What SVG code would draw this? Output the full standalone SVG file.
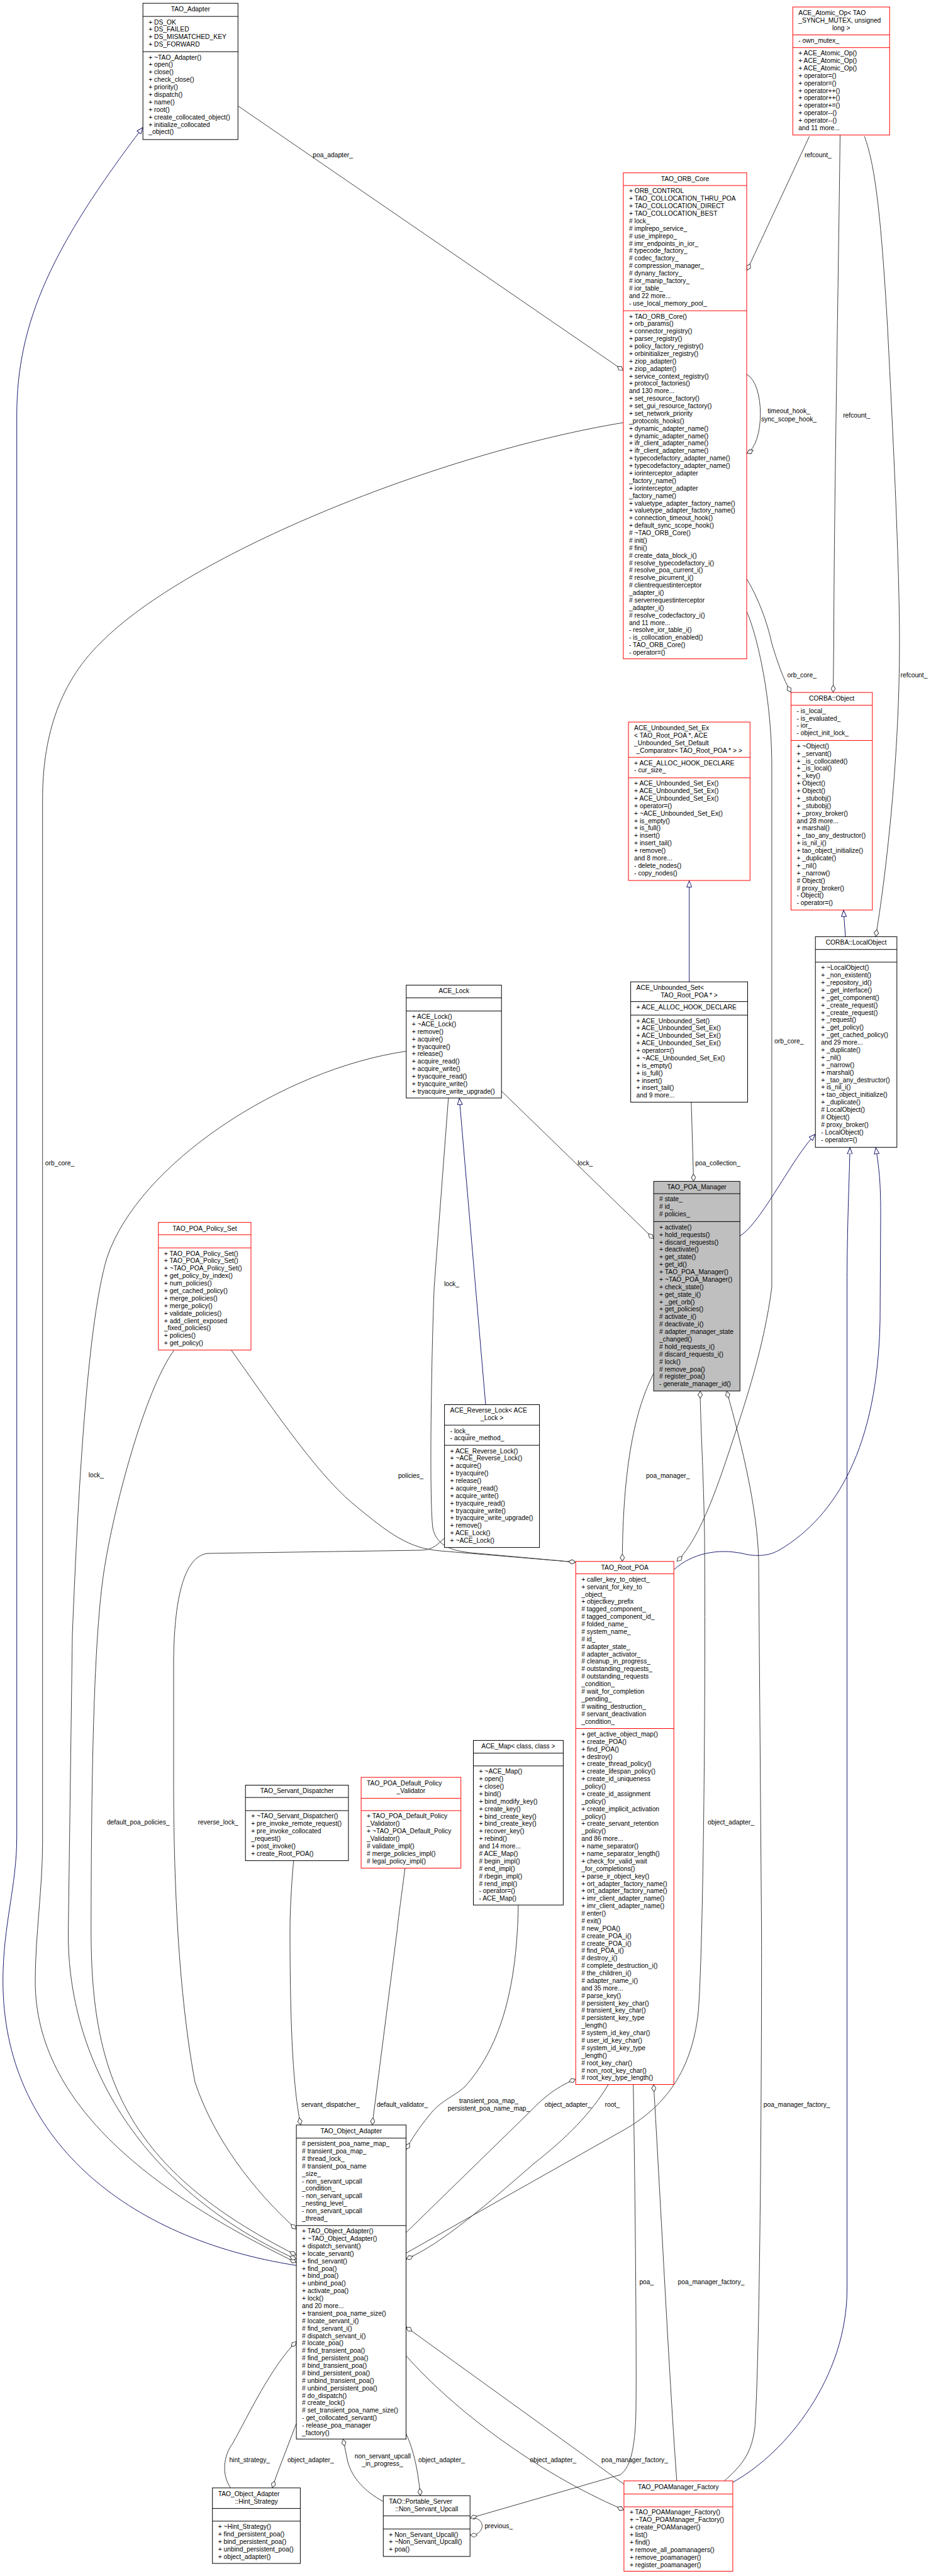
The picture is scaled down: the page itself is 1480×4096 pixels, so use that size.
<svg xmlns="http://www.w3.org/2000/svg" width="1480" height="4096" viewBox="0 0 1480 4096">
<style>
.bx{fill:#fff;stroke:#000;stroke-width:1}
.rd{fill:#fff;stroke:#f00;stroke-width:1}
.gy{fill:#bfbfbf;stroke:#000;stroke-width:1}
.sk{fill:none;stroke:#000;stroke-width:1}
.sr{fill:none;stroke:#f00;stroke-width:1}
text{font-family:"Liberation Sans",Arial,Helvetica,sans-serif;font-size:10.3px;fill:#000}
.c{text-anchor:middle}
.e{fill:none;stroke:#404040;stroke-width:1;marker-end:url(#d)}
.i{fill:none;stroke:#191970;stroke-width:1;marker-end:url(#t)}
</style>
<defs>
<marker id="d" viewBox="0 0 12 8" refX="12" refY="4" markerWidth="12" markerHeight="8" orient="auto" markerUnits="userSpaceOnUse"><path d="M0.5,4 L6,0.5 L11.5,4 L6,7.5 Z" fill="#fff" stroke="#404040"/></marker>
<marker id="t" viewBox="0 0 11 9" refX="11" refY="4.5" markerWidth="11" markerHeight="9" orient="auto" markerUnits="userSpaceOnUse"><path d="M0.5,0.5 L10.5,4.5 L0.5,8.5 Z" fill="#fff" stroke="#191970"/></marker>
</defs>
<rect width="1480" height="4096" fill="#fff"/>

<g id="connectors">
<path class="e" d="M378.3,168.4 L990.9,589"/>
<path class="e" d="M1286.7,216.7 L1187.5,430"/>
<path class="e" d="M1335.5,214.7 C1332,500 1326,800 1325.4,1023 L1324.5,1101"/>
<path class="e" d="M1374.2,216.7 C1390,260 1400,330 1411,522 C1420,700 1430,900 1429.9,1023 C1429.9,1200 1410,1380 1392.2,1489.4"/>
<path class="e" d="M1187,595.3 C1216,610 1216,706 1187,721"/>
<path class="e" d="M1187,920.4 C1205,950 1220,990 1226.9,1023 C1235,1050 1245,1080 1257.5,1101"/>
<path class="e" d="M1187,972.5 C1200,1000 1226.9,1100 1226.9,1219 L1226.9,2046.8 C1215,2140 1185,2230 1165,2290 C1145,2350 1115,2445 1076,2482.8"/>
<path class="e" d="M990.9,672 C700,720 300,880 160,1022 C90,1090 67.7,1180 67.7,1270 L67.7,2930 C67.7,3000 56,3080 56,3150 C56,3350 250,3490 471.1,3597.6"/>
<path class="i" d="M471.1,3602.2 C200,3560 4.7,3400 4.7,3150 C4.7,3060 26.7,3000 26.7,2920 L26.7,660 C26.7,510 85,390 227.2,202.3"/>
<path class="e" d="M645.8,1671.5 C450,1700 220,1850 170,2000 C140,2100 125,2350 115,2600 L108.6,3070 C106,3250 200,3470 471.1,3592.4"/>
<path class="e" d="M276.9,2146.7 C230,2210 180,2400 165,2500 C150,2600 145,2800 144.8,3070 C144.8,3300 200,3450 471.1,3585.8"/>
<path class="e" d="M706.6,2446 C695,2455 690,2464 670,2465 L330,2470 C290,2475 277,2550 276,2640 L276,2830 C276,2950 280,3150 310,3311 C340,3400 400,3480 471.1,3544.7"/>
<path class="e" d="M367.6,2146.7 C420,2220 500,2340 560,2390 C620,2440 650,2462 700,2466 L915.2,2484"/>
<path class="e" d="M712.8,1745.9 L690.2,2046.8 C686,2150 682,2380 688,2430 C695,2460 720,2467 760,2470 L915.2,2484"/>
<path class="i" d="M772,2233.5 L730.2,1746"/>
<path class="e" d="M797.2,1734.9 L1039.1,1969.8"/>
<path class="e" d="M1098.9,1752.5 L1102.6,1878.4"/>
<path class="i" d="M1095.7,1561.2 L1095.7,1400"/>
<path class="i" d="M1176.3,1965.2 C1210,1945 1260,1840 1296.2,1803.4"/>
<path class="i" d="M1344,1489.4 L1340.9,1447"/>
<path class="i" d="M1071.2,2496 C1100,2470 1140,2462 1180,2470 C1210,2478 1230,2470 1240,2464 C1330,2410 1395,2300 1399,2100 L1400,1930 C1400,1870 1396,1850 1392.2,1824.3"/>
<path class="i" d="M1164.9,3947 C1250,3900 1346.5,3780 1346.5,3640 L1346.5,2050 C1346.5,1950 1350,1880 1351.2,1824.3"/>
<path class="e" d="M1039.1,2184 C1010,2240 990,2330 989.3,2482.8"/>
<path class="e" d="M645.5,3582.6 L986,3390 C1060,3350 1100,3290 1110,3200 C1118,3100 1122,2700 1120,2440 C1118,2330 1114,2280 1113,2211.8"/>
<path class="e" d="M1151.4,3944.8 C1180,3920 1195,3900 1200,3860 C1208,3750 1211,3300 1210.6,3070 L1206,2480 C1204,2400 1180,2300 1155.2,2211.8"/>
<path class="e" d="M1075.9,3944.8 C1065,3800 1050,3500 1039.1,3314.5"/>
<path class="e" d="M1006.7,3314.5 C1010,3500 1012,3750 1011,3830 C1010,3900 1000,3925 986,3935 L747.2,4004"/>
<path class="e" d="M967.1,3314.5 C940,3360 900,3400 849,3440 C780,3500 700,3570 645.5,3592"/>
<path class="e" d="M645.5,3550 L842.8,3357.4 C860,3340 880,3320 915.2,3306"/>
<path class="e" d="M823.9,3029.1 C822,3150 800,3250 739,3318 C720,3335 700,3340 682,3364 C665,3385 655,3400 645.5,3418"/>
<path class="e" d="M643.9,2970.4 C640,3000 632,3060 631.3,3070 L591.7,3378.9"/>
<path class="e" d="M466.7,2958.6 C463,3000 461,3040 461,3070 C461,3250 468,3330 478,3378.9"/>
<path class="e" d="M366.6,3955.9 C352,3935 355,3905 370,3885 C395,3840 430,3765 471.1,3723"/>
<path class="e" d="M471.1,3853.4 L440,3935 L432.7,3955.9"/>
<path class="e" d="M609.3,3977.5 C580,3962 560,3940 553,3915 L545.4,3878.2"/>
<path class="e" d="M645.5,3869.8 C655,3890 664,3920 668.2,3968.3"/>
<path class="e" d="M991.9,3950 L645.5,3700"/>
<path class="e" d="M645.5,3745.8 C720,3830 850,3930 991.9,3991"/>
<path class="e" d="M752,4004 C772,4004 772,4031 747.2,4031"/>
<text x="497.3" y="250.4">poa_adapter_</text>
<text x="1278.9" y="250.4">refcount_</text>
<text x="1340.2" y="664.2">refcount_</text>
<text x="1431.5" y="1076.7">refcount_</text>
<text class="c" x="1254" y="657">timeout_hook_</text>
<text class="c" x="1254" y="669.5">sync_scope_hook_</text>
<text x="1251.5" y="1076.7">orb_core_</text>
<text x="1231" y="1658.9">orb_core_</text>
<text x="71.8" y="1853.4">orb_core_</text>
<text x="1105.2" y="1853.4">poa_collection_</text>
<text x="918.3" y="1853.4">lock_</text>
<text x="705.9" y="2045.3">lock_</text>
<text x="140.7" y="2349.4">lock_</text>
<text x="632.9" y="2350.1">policies_</text>
<text x="1027.1" y="2350.1">poa_manager_</text>
<text x="169.9" y="2901">default_poa_policies_</text>
<text x="314.7" y="2901">reverse_lock_</text>
<text x="1125" y="2901">object_adapter_</text>
<text x="479" y="3350">servant_dispatcher_</text>
<text x="598.9" y="3350">default_validator_</text>
<text class="c" x="777" y="3343.5">transient_poa_map_</text>
<text class="c" x="777" y="3355.9">persistent_poa_name_map_</text>
<text x="865.8" y="3350">object_adapter_</text>
<text x="961.5" y="3350">root_</text>
<text x="1213.7" y="3350">poa_manager_factory_</text>
<text x="1016.4" y="3632">poa_</text>
<text x="1077.5" y="3632">poa_manager_factory_</text>
<text x="364.4" y="3914.6">hint_strategy_</text>
<text x="456.9" y="3914.6">object_adapter_</text>
<text class="c" x="608.4" y="3908.7">non_servant_upcall</text>
<text class="c" x="608" y="3920.5">_in_progress_</text>
<text x="665" y="3914.6">object_adapter_</text>
<text x="842.2" y="3914.6">object_adapter_</text>
<text x="956.1" y="3914.6">poa_manager_factory_</text>
<text x="770.4" y="4019.7">previous_</text>
</g>

<g id="TAO_Adapter">
<rect class="bx" x="227.2" y="5.2" width="151.1" height="216.7"/>
<path class="sk" d="M227.2,26.1H378.3M227.2,82.2H378.3"/>
<text class="c" x="302.75" y="18.1">TAO_Adapter</text>
<text x="236.2" y="38.5"><tspan x="236.2">+ DS_OK</tspan><tspan x="236.2" dy="11.88">+ DS_FAILED</tspan><tspan x="236.2" dy="11.88">+ DS_MISMATCHED_KEY</tspan><tspan x="236.2" dy="11.88">+ DS_FORWARD</tspan></text>
<text x="236.2" y="94.6"><tspan x="236.2">+ ~TAO_Adapter()</tspan><tspan x="236.2" dy="11.88">+ open()</tspan><tspan x="236.2" dy="11.88">+ close()</tspan><tspan x="236.2" dy="11.88">+ check_close()</tspan><tspan x="236.2" dy="11.88">+ priority()</tspan><tspan x="236.2" dy="11.88">+ dispatch()</tspan><tspan x="236.2" dy="11.88">+ name()</tspan><tspan x="236.2" dy="11.88">+ root()</tspan><tspan x="236.2" dy="11.88">+ create_collocated_object()</tspan><tspan x="236.2" dy="11.88">+ initialize_collocated</tspan><tspan x="236.2" dy="11.88">_object()</tspan></text>
</g>

<g id="ACE_Atomic_Op">
<rect class="rd" x="1260.3" y="11.1" width="153.9" height="203.6"/>
<path class="sr" d="M1260.3,55.5H1414.2M1260.3,75.7H1414.2"/>
<text x="1269.3" y="24"><tspan x="1269.3">ACE_Atomic_Op&lt; TAO</tspan><tspan x="1269.3" dy="11.88">_SYNCH_MUTEX, unsigned</tspan></text>
<text class="c" x="1337.25" y="47.8">long &gt;</text>
<text x="1269.3" y="67.9">- own_mutex_</text>
<text x="1269.3" y="88.1"><tspan x="1269.3">+ ACE_Atomic_Op()</tspan><tspan x="1269.3" dy="11.88">+ ACE_Atomic_Op()</tspan><tspan x="1269.3" dy="11.88">+ ACE_Atomic_Op()</tspan><tspan x="1269.3" dy="11.88">+ operator=()</tspan><tspan x="1269.3" dy="11.88">+ operator=()</tspan><tspan x="1269.3" dy="11.88">+ operator++()</tspan><tspan x="1269.3" dy="11.88">+ operator++()</tspan><tspan x="1269.3" dy="11.88">+ operator+=()</tspan><tspan x="1269.3" dy="11.88">+ operator--()</tspan><tspan x="1269.3" dy="11.88">+ operator--()</tspan><tspan x="1269.3" dy="11.88">and 11 more...</tspan></text>
</g>

<g id="TAO_ORB_Core">
<rect class="rd" x="990.9" y="274.8" width="196.1" height="772.8"/>
<path class="sr" d="M990.9,295H1187M990.9,494.1H1187"/>
<text class="c" x="1088.95" y="287.7">TAO_ORB_Core</text>
<text x="1000" y="307.4"><tspan x="1000">+ ORB_CONTROL</tspan><tspan x="1000" dy="11.88">+ TAO_COLLOCATION_THRU_POA</tspan><tspan x="1000" dy="11.88">+ TAO_COLLOCATION_DIRECT</tspan><tspan x="1000" dy="11.88">+ TAO_COLLOCATION_BEST</tspan><tspan x="1000" dy="11.88"># lock_</tspan><tspan x="1000" dy="11.88"># implrepo_service_</tspan><tspan x="1000" dy="11.88"># use_implrepo_</tspan><tspan x="1000" dy="11.88"># imr_endpoints_in_ior_</tspan><tspan x="1000" dy="11.88"># typecode_factory_</tspan><tspan x="1000" dy="11.88"># codec_factory_</tspan><tspan x="1000" dy="11.88"># compression_manager_</tspan><tspan x="1000" dy="11.88"># dynany_factory_</tspan><tspan x="1000" dy="11.88"># ior_manip_factory_</tspan><tspan x="1000" dy="11.88"># ior_table_</tspan><tspan x="1000" dy="11.88">and 22 more...</tspan><tspan x="1000" dy="11.88">- use_local_memory_pool_</tspan></text>
<text x="1000" y="506.5"><tspan x="1000">+ TAO_ORB_Core()</tspan><tspan x="1000" dy="11.88">+ orb_params()</tspan><tspan x="1000" dy="11.88">+ connector_registry()</tspan><tspan x="1000" dy="11.88">+ parser_registry()</tspan><tspan x="1000" dy="11.88">+ policy_factory_registry()</tspan><tspan x="1000" dy="11.88">+ orbinitializer_registry()</tspan><tspan x="1000" dy="11.88">+ ziop_adapter()</tspan><tspan x="1000" dy="11.88">+ ziop_adapter()</tspan><tspan x="1000" dy="11.88">+ service_context_registry()</tspan><tspan x="1000" dy="11.88">+ protocol_factories()</tspan><tspan x="1000" dy="11.88">and 130 more...</tspan><tspan x="1000" dy="11.88">+ set_resource_factory()</tspan><tspan x="1000" dy="11.88">+ set_gui_resource_factory()</tspan><tspan x="1000" dy="11.88">+ set_network_priority</tspan><tspan x="1000" dy="11.88">_protocols_hooks()</tspan><tspan x="1000" dy="11.88">+ dynamic_adapter_name()</tspan><tspan x="1000" dy="11.88">+ dynamic_adapter_name()</tspan><tspan x="1000" dy="11.88">+ ifr_client_adapter_name()</tspan><tspan x="1000" dy="11.88">+ ifr_client_adapter_name()</tspan><tspan x="1000" dy="11.88">+ typecodefactory_adapter_name()</tspan><tspan x="1000" dy="11.88">+ typecodefactory_adapter_name()</tspan><tspan x="1000" dy="11.88">+ iorinterceptor_adapter</tspan><tspan x="1000" dy="11.88">_factory_name()</tspan><tspan x="1000" dy="11.88">+ iorinterceptor_adapter</tspan><tspan x="1000" dy="11.88">_factory_name()</tspan><tspan x="1000" dy="11.88">+ valuetype_adapter_factory_name()</tspan><tspan x="1000" dy="11.88">+ valuetype_adapter_factory_name()</tspan><tspan x="1000" dy="11.88">+ connection_timeout_hook()</tspan><tspan x="1000" dy="11.88">+ default_sync_scope_hook()</tspan><tspan x="1000" dy="11.88"># ~TAO_ORB_Core()</tspan><tspan x="1000" dy="11.88"># init()</tspan><tspan x="1000" dy="11.88"># fini()</tspan><tspan x="1000" dy="11.88"># create_data_block_i()</tspan><tspan x="1000" dy="11.88"># resolve_typecodefactory_i()</tspan><tspan x="1000" dy="11.88"># resolve_poa_current_i()</tspan><tspan x="1000" dy="11.88"># resolve_picurrent_i()</tspan><tspan x="1000" dy="11.88"># clientrequestinterceptor</tspan><tspan x="1000" dy="11.88">_adapter_i()</tspan><tspan x="1000" dy="11.88"># serverrequestinterceptor</tspan><tspan x="1000" dy="11.88">_adapter_i()</tspan><tspan x="1000" dy="11.88"># resolve_codecfactory_i()</tspan><tspan x="1000" dy="11.88">and 11 more...</tspan><tspan x="1000" dy="11.88">- resolve_ior_table_i()</tspan><tspan x="1000" dy="11.88">- is_collocation_enabled()</tspan><tspan x="1000" dy="11.88">- TAO_ORB_Core()</tspan><tspan x="1000" dy="11.88">- operator=()</tspan></text>
</g>

<g id="ACE_Unbounded_Set_Ex">
<rect class="rd" x="999.1" y="1148.1" width="193.2" height="251.9"/>
<path class="sr" d="M999.1,1204.2H1192.3M999.1,1236.8H1192.3"/>
<text x="1008.1" y="1161"><tspan x="1008.1">ACE_Unbounded_Set_Ex</tspan><tspan x="1008.1" dy="11.88">&lt; TAO_Root_POA *, ACE</tspan><tspan x="1008.1" dy="11.88">_Unbounded_Set_Default</tspan></text>
<text class="c" x="1095.7" y="1196.6">_Comparator&lt; TAO_Root_POA * &gt; &gt;</text>
<text x="1008.1" y="1216.6"><tspan x="1008.1">+ ACE_ALLOC_HOOK_DECLARE</tspan><tspan x="1008.1" dy="11.88">- cur_size_</tspan></text>
<text x="1008.1" y="1249.2"><tspan x="1008.1">+ ACE_Unbounded_Set_Ex()</tspan><tspan x="1008.1" dy="11.88">+ ACE_Unbounded_Set_Ex()</tspan><tspan x="1008.1" dy="11.88">+ ACE_Unbounded_Set_Ex()</tspan><tspan x="1008.1" dy="11.88">+ operator=()</tspan><tspan x="1008.1" dy="11.88">+ ~ACE_Unbounded_Set_Ex()</tspan><tspan x="1008.1" dy="11.88">+ is_empty()</tspan><tspan x="1008.1" dy="11.88">+ is_full()</tspan><tspan x="1008.1" dy="11.88">+ insert()</tspan><tspan x="1008.1" dy="11.88">+ insert_tail()</tspan><tspan x="1008.1" dy="11.88">+ remove()</tspan><tspan x="1008.1" dy="11.88">and 8 more...</tspan><tspan x="1008.1" dy="11.88">- delete_nodes()</tspan><tspan x="1008.1" dy="11.88">- copy_nodes()</tspan></text>
</g>

<g id="CORBA_Object">
<rect class="rd" x="1257.5" y="1101.1" width="129.3" height="345.9"/>
<path class="sr" d="M1257.5,1121.3H1386.8M1257.5,1177.4H1386.8"/>
<text class="c" x="1322.15" y="1114">CORBA::Object</text>
<text x="1266.5" y="1133.7"><tspan x="1266.5">- is_local_</tspan><tspan x="1266.5" dy="11.88">- is_evaluated_</tspan><tspan x="1266.5" dy="11.88">- ior_</tspan><tspan x="1266.5" dy="11.88">- object_init_lock_</tspan></text>
<text x="1266.5" y="1189.8"><tspan x="1266.5">+ ~Object()</tspan><tspan x="1266.5" dy="11.88">+ _servant()</tspan><tspan x="1266.5" dy="11.88">+ _is_collocated()</tspan><tspan x="1266.5" dy="11.88">+ _is_local()</tspan><tspan x="1266.5" dy="11.88">+ _key()</tspan><tspan x="1266.5" dy="11.88">+ Object()</tspan><tspan x="1266.5" dy="11.88">+ Object()</tspan><tspan x="1266.5" dy="11.88">+ _stubobj()</tspan><tspan x="1266.5" dy="11.88">+ _stubobj()</tspan><tspan x="1266.5" dy="11.88">+ _proxy_broker()</tspan><tspan x="1266.5" dy="11.88">and 28 more...</tspan><tspan x="1266.5" dy="11.88">+ marshal()</tspan><tspan x="1266.5" dy="11.88">+ _tao_any_destructor()</tspan><tspan x="1266.5" dy="11.88">+ is_nil_i()</tspan><tspan x="1266.5" dy="11.88">+ tao_object_initialize()</tspan><tspan x="1266.5" dy="11.88">+ _duplicate()</tspan><tspan x="1266.5" dy="11.88">+ _nil()</tspan><tspan x="1266.5" dy="11.88">+ _narrow()</tspan><tspan x="1266.5" dy="11.88"># Object()</tspan><tspan x="1266.5" dy="11.88"># proxy_broker()</tspan><tspan x="1266.5" dy="11.88">- Object()</tspan><tspan x="1266.5" dy="11.88">- operator=()</tspan></text>
</g>

<g id="CORBA_LocalObject">
<rect class="bx" x="1296.2" y="1489.4" width="129.6" height="334.9"/>
<path class="sk" d="M1296.2,1509.7H1425.8M1296.2,1529.9H1425.8"/>
<text class="c" x="1361" y="1502.3">CORBA::LocalObject</text>
<text x="1305.2" y="1542.3"><tspan x="1305.2">+ ~LocalObject()</tspan><tspan x="1305.2" dy="11.88">+ _non_existent()</tspan><tspan x="1305.2" dy="11.88">+ _repository_id()</tspan><tspan x="1305.2" dy="11.88">+ _get_interface()</tspan><tspan x="1305.2" dy="11.88">+ _get_component()</tspan><tspan x="1305.2" dy="11.88">+ _create_request()</tspan><tspan x="1305.2" dy="11.88">+ _create_request()</tspan><tspan x="1305.2" dy="11.88">+ _request()</tspan><tspan x="1305.2" dy="11.88">+ _get_policy()</tspan><tspan x="1305.2" dy="11.88">+ _get_cached_policy()</tspan><tspan x="1305.2" dy="11.88">and 29 more...</tspan><tspan x="1305.2" dy="11.88">+ _duplicate()</tspan><tspan x="1305.2" dy="11.88">+ _nil()</tspan><tspan x="1305.2" dy="11.88">+ _narrow()</tspan><tspan x="1305.2" dy="11.88">+ marshal()</tspan><tspan x="1305.2" dy="11.88">+ _tao_any_destructor()</tspan><tspan x="1305.2" dy="11.88">+ is_nil_i()</tspan><tspan x="1305.2" dy="11.88">+ tao_object_initialize()</tspan><tspan x="1305.2" dy="11.88">+ _duplicate()</tspan><tspan x="1305.2" dy="11.88"># LocalObject()</tspan><tspan x="1305.2" dy="11.88"># Object()</tspan><tspan x="1305.2" dy="11.88"># proxy_broker()</tspan><tspan x="1305.2" dy="11.88">- LocalObject()</tspan><tspan x="1305.2" dy="11.88">- operator=()</tspan></text>
</g>

<g id="ACE_Lock">
<rect class="bx" x="645.8" y="1566.4" width="151.4" height="179.5"/>
<path class="sk" d="M645.8,1586.7H797.2M645.8,1607.6H797.2"/>
<text class="c" x="721.5" y="1579.3">ACE_Lock</text>
<text x="654.8" y="1620"><tspan x="654.8">+ ACE_Lock()</tspan><tspan x="654.8" dy="11.88">+ ~ACE_Lock()</tspan><tspan x="654.8" dy="11.88">+ remove()</tspan><tspan x="654.8" dy="11.88">+ acquire()</tspan><tspan x="654.8" dy="11.88">+ tryacquire()</tspan><tspan x="654.8" dy="11.88">+ release()</tspan><tspan x="654.8" dy="11.88">+ acquire_read()</tspan><tspan x="654.8" dy="11.88">+ acquire_write()</tspan><tspan x="654.8" dy="11.88">+ tryacquire_read()</tspan><tspan x="654.8" dy="11.88">+ tryacquire_write()</tspan><tspan x="654.8" dy="11.88">+ tryacquire_write_upgrade()</tspan></text>
</g>

<g id="ACE_Unbounded_Set">
<rect class="bx" x="1002.6" y="1561.2" width="185.9" height="191.3"/>
<path class="sk" d="M1002.6,1592.6H1188.5M1002.6,1614.1H1188.5"/>
<text x="1011.6" y="1574.1">ACE_Unbounded_Set&lt;</text>
<text class="c" x="1095.55" y="1586">TAO_Root_POA * &gt;</text>
<text x="1011.6" y="1605">+ ACE_ALLOC_HOOK_DECLARE</text>
<text x="1011.6" y="1626.5"><tspan x="1011.6">+ ACE_Unbounded_Set()</tspan><tspan x="1011.6" dy="11.88">+ ACE_Unbounded_Set_Ex()</tspan><tspan x="1011.6" dy="11.88">+ ACE_Unbounded_Set_Ex()</tspan><tspan x="1011.6" dy="11.88">+ ACE_Unbounded_Set_Ex()</tspan><tspan x="1011.6" dy="11.88">+ operator=()</tspan><tspan x="1011.6" dy="11.88">+ ~ACE_Unbounded_Set_Ex()</tspan><tspan x="1011.6" dy="11.88">+ is_empty()</tspan><tspan x="1011.6" dy="11.88">+ is_full()</tspan><tspan x="1011.6" dy="11.88">+ insert()</tspan><tspan x="1011.6" dy="11.88">+ insert_tail()</tspan><tspan x="1011.6" dy="11.88">and 9 more...</tspan></text>
</g>

<g id="TAO_POA_Manager">
<rect class="gy" x="1039.1" y="1878.4" width="137.2" height="333.4"/>
<path class="sk" d="M1039.1,1898H1176.3M1039.1,1942.4H1176.3"/>
<text class="c" x="1107.7" y="1891.3">TAO_POA_Manager</text>
<text x="1048.1" y="1910.4"><tspan x="1048.1"># state_</tspan><tspan x="1048.1" dy="11.88"># id_</tspan><tspan x="1048.1" dy="11.88"># policies_</tspan></text>
<text x="1048.1" y="1954.8"><tspan x="1048.1">+ activate()</tspan><tspan x="1048.1" dy="11.88">+ hold_requests()</tspan><tspan x="1048.1" dy="11.88">+ discard_requests()</tspan><tspan x="1048.1" dy="11.88">+ deactivate()</tspan><tspan x="1048.1" dy="11.88">+ get_state()</tspan><tspan x="1048.1" dy="11.88">+ get_id()</tspan><tspan x="1048.1" dy="11.88">+ TAO_POA_Manager()</tspan><tspan x="1048.1" dy="11.88">+ ~TAO_POA_Manager()</tspan><tspan x="1048.1" dy="11.88">+ check_state()</tspan><tspan x="1048.1" dy="11.88">+ get_state_i()</tspan><tspan x="1048.1" dy="11.88">+ _get_orb()</tspan><tspan x="1048.1" dy="11.88">+ get_policies()</tspan><tspan x="1048.1" dy="11.88"># activate_i()</tspan><tspan x="1048.1" dy="11.88"># deactivate_i()</tspan><tspan x="1048.1" dy="11.88"># adapter_manager_state</tspan><tspan x="1048.1" dy="11.88">_changed()</tspan><tspan x="1048.1" dy="11.88"># hold_requests_i()</tspan><tspan x="1048.1" dy="11.88"># discard_requests_i()</tspan><tspan x="1048.1" dy="11.88"># lock()</tspan><tspan x="1048.1" dy="11.88"># remove_poa()</tspan><tspan x="1048.1" dy="11.88"># register_poa()</tspan><tspan x="1048.1" dy="11.88">- generate_manager_id()</tspan></text>
</g>

<g id="TAO_POA_Policy_Set">
<rect class="rd" x="251.8" y="1943.7" width="147.2" height="203"/>
<path class="sr" d="M251.8,1963.3H399M251.8,1984.2H399"/>
<text class="c" x="325.4" y="1956.6">TAO_POA_Policy_Set</text>
<text x="260.8" y="1996.6"><tspan x="260.8">+ TAO_POA_Policy_Set()</tspan><tspan x="260.8" dy="11.88">+ TAO_POA_Policy_Set()</tspan><tspan x="260.8" dy="11.88">+ ~TAO_POA_Policy_Set()</tspan><tspan x="260.8" dy="11.88">+ get_policy_by_index()</tspan><tspan x="260.8" dy="11.88">+ num_policies()</tspan><tspan x="260.8" dy="11.88">+ get_cached_policy()</tspan><tspan x="260.8" dy="11.88">+ merge_policies()</tspan><tspan x="260.8" dy="11.88">+ merge_policy()</tspan><tspan x="260.8" dy="11.88">+ validate_policies()</tspan><tspan x="260.8" dy="11.88">+ add_client_exposed</tspan><tspan x="260.8" dy="11.88">_fixed_policies()</tspan><tspan x="260.8" dy="11.88">+ policies()</tspan><tspan x="260.8" dy="11.88">+ get_policy()</tspan></text>
</g>

<g id="ACE_Reverse_Lock">
<rect class="bx" x="706.6" y="2233.5" width="151" height="227.1"/>
<path class="sk" d="M706.6,2266.1H857.6M706.6,2298.1H857.6"/>
<text x="715.6" y="2246.4">ACE_Reverse_Lock&lt; ACE</text>
<text class="c" x="782.1" y="2258.3">_Lock &gt;</text>
<text x="715.6" y="2278.5"><tspan x="715.6">- lock_</tspan><tspan x="715.6" dy="11.88">- acquire_method_</tspan></text>
<text x="715.6" y="2310.5"><tspan x="715.6">+ ACE_Reverse_Lock()</tspan><tspan x="715.6" dy="11.88">+ ~ACE_Reverse_Lock()</tspan><tspan x="715.6" dy="11.88">+ acquire()</tspan><tspan x="715.6" dy="11.88">+ tryacquire()</tspan><tspan x="715.6" dy="11.88">+ release()</tspan><tspan x="715.6" dy="11.88">+ acquire_read()</tspan><tspan x="715.6" dy="11.88">+ acquire_write()</tspan><tspan x="715.6" dy="11.88">+ tryacquire_read()</tspan><tspan x="715.6" dy="11.88">+ tryacquire_write()</tspan><tspan x="715.6" dy="11.88">+ tryacquire_write_upgrade()</tspan><tspan x="715.6" dy="11.88">+ remove()</tspan><tspan x="715.6" dy="11.88">+ ACE_Lock()</tspan><tspan x="715.6" dy="11.88">+ ~ACE_Lock()</tspan></text>
</g>

<g id="TAO_Root_POA">
<rect class="rd" x="915.2" y="2482.8" width="156" height="831.7"/>
<path class="sr" d="M915.2,2502.4H1071.2M915.2,2748.5H1071.2"/>
<text class="c" x="993.2" y="2495.7">TAO_Root_POA</text>
<text x="924.2" y="2514.8"><tspan x="924.2">+ caller_key_to_object_</tspan><tspan x="924.2" dy="11.88">+ servant_for_key_to</tspan><tspan x="924.2" dy="11.88">_object_</tspan><tspan x="924.2" dy="11.88">+ objectkey_prefix</tspan><tspan x="924.2" dy="11.88"># tagged_component_</tspan><tspan x="924.2" dy="11.88"># tagged_component_id_</tspan><tspan x="924.2" dy="11.88"># folded_name_</tspan><tspan x="924.2" dy="11.88"># system_name_</tspan><tspan x="924.2" dy="11.88"># id_</tspan><tspan x="924.2" dy="11.88"># adapter_state_</tspan><tspan x="924.2" dy="11.88"># adapter_activator_</tspan><tspan x="924.2" dy="11.88"># cleanup_in_progress_</tspan><tspan x="924.2" dy="11.88"># outstanding_requests_</tspan><tspan x="924.2" dy="11.88"># outstanding_requests</tspan><tspan x="924.2" dy="11.88">_condition_</tspan><tspan x="924.2" dy="11.88"># wait_for_completion</tspan><tspan x="924.2" dy="11.88">_pending_</tspan><tspan x="924.2" dy="11.88"># waiting_destruction_</tspan><tspan x="924.2" dy="11.88"># servant_deactivation</tspan><tspan x="924.2" dy="11.88">_condition_</tspan></text>
<text x="924.2" y="2760.9"><tspan x="924.2">+ get_active_object_map()</tspan><tspan x="924.2" dy="11.88">+ create_POA()</tspan><tspan x="924.2" dy="11.88">+ find_POA()</tspan><tspan x="924.2" dy="11.88">+ destroy()</tspan><tspan x="924.2" dy="11.88">+ create_thread_policy()</tspan><tspan x="924.2" dy="11.88">+ create_lifespan_policy()</tspan><tspan x="924.2" dy="11.88">+ create_id_uniqueness</tspan><tspan x="924.2" dy="11.88">_policy()</tspan><tspan x="924.2" dy="11.88">+ create_id_assignment</tspan><tspan x="924.2" dy="11.88">_policy()</tspan><tspan x="924.2" dy="11.88">+ create_implicit_activation</tspan><tspan x="924.2" dy="11.88">_policy()</tspan><tspan x="924.2" dy="11.88">+ create_servant_retention</tspan><tspan x="924.2" dy="11.88">_policy()</tspan><tspan x="924.2" dy="11.88">and 86 more...</tspan><tspan x="924.2" dy="11.88">+ name_separator()</tspan><tspan x="924.2" dy="11.88">+ name_separator_length()</tspan><tspan x="924.2" dy="11.88">+ check_for_valid_wait</tspan><tspan x="924.2" dy="11.88">_for_completions()</tspan><tspan x="924.2" dy="11.88">+ parse_ir_object_key()</tspan><tspan x="924.2" dy="11.88">+ ort_adapter_factory_name()</tspan><tspan x="924.2" dy="11.88">+ ort_adapter_factory_name()</tspan><tspan x="924.2" dy="11.88">+ imr_client_adapter_name()</tspan><tspan x="924.2" dy="11.88">+ imr_client_adapter_name()</tspan><tspan x="924.2" dy="11.88"># enter()</tspan><tspan x="924.2" dy="11.88"># exit()</tspan><tspan x="924.2" dy="11.88"># new_POA()</tspan><tspan x="924.2" dy="11.88"># create_POA_i()</tspan><tspan x="924.2" dy="11.88"># create_POA_i()</tspan><tspan x="924.2" dy="11.88"># find_POA_i()</tspan><tspan x="924.2" dy="11.88"># destroy_i()</tspan><tspan x="924.2" dy="11.88"># complete_destruction_i()</tspan><tspan x="924.2" dy="11.88"># the_children_i()</tspan><tspan x="924.2" dy="11.88"># adapter_name_i()</tspan><tspan x="924.2" dy="11.88">and 35 more...</tspan><tspan x="924.2" dy="11.88"># parse_key()</tspan><tspan x="924.2" dy="11.88"># persistent_key_char()</tspan><tspan x="924.2" dy="11.88"># transient_key_char()</tspan><tspan x="924.2" dy="11.88"># persistent_key_type</tspan><tspan x="924.2" dy="11.88">_length()</tspan><tspan x="924.2" dy="11.88"># system_id_key_char()</tspan><tspan x="924.2" dy="11.88"># user_id_key_char()</tspan><tspan x="924.2" dy="11.88"># system_id_key_type</tspan><tspan x="924.2" dy="11.88">_length()</tspan><tspan x="924.2" dy="11.88"># root_key_char()</tspan><tspan x="924.2" dy="11.88"># non_root_key_char()</tspan><tspan x="924.2" dy="11.88"># root_key_type_length()</tspan></text>
</g>

<g id="ACE_Map">
<rect class="bx" x="752.5" y="2767.4" width="142.9" height="261.7"/>
<path class="sk" d="M752.5,2787.6H895.4M752.5,2807.9H895.4"/>
<text class="c" x="823.95" y="2780.3">ACE_Map&lt; class, class &gt;</text>
<text x="761.5" y="2820.3"><tspan x="761.5">+ ~ACE_Map()</tspan><tspan x="761.5" dy="11.88">+ open()</tspan><tspan x="761.5" dy="11.88">+ close()</tspan><tspan x="761.5" dy="11.88">+ bind()</tspan><tspan x="761.5" dy="11.88">+ bind_modify_key()</tspan><tspan x="761.5" dy="11.88">+ create_key()</tspan><tspan x="761.5" dy="11.88">+ bind_create_key()</tspan><tspan x="761.5" dy="11.88">+ bind_create_key()</tspan><tspan x="761.5" dy="11.88">+ recover_key()</tspan><tspan x="761.5" dy="11.88">+ rebind()</tspan><tspan x="761.5" dy="11.88">and 14 more...</tspan><tspan x="761.5" dy="11.88"># ACE_Map()</tspan><tspan x="761.5" dy="11.88"># begin_impl()</tspan><tspan x="761.5" dy="11.88"># end_impl()</tspan><tspan x="761.5" dy="11.88"># rbegin_impl()</tspan><tspan x="761.5" dy="11.88"># rend_impl()</tspan><tspan x="761.5" dy="11.88">- operator=()</tspan><tspan x="761.5" dy="11.88">- ACE_Map()</tspan></text>
</g>

<g id="TAO_Servant_Dispatcher">
<rect class="bx" x="390.2" y="2838.5" width="163.7" height="120.1"/>
<path class="sk" d="M390.2,2858.1H553.9M390.2,2879H553.9"/>
<text class="c" x="472.05" y="2851.4">TAO_Servant_Dispatcher</text>
<text x="399.2" y="2891.4"><tspan x="399.2">+ ~TAO_Servant_Dispatcher()</tspan><tspan x="399.2" dy="11.88">+ pre_invoke_remote_request()</tspan><tspan x="399.2" dy="11.88">+ pre_invoke_collocated</tspan><tspan x="399.2" dy="11.88">_request()</tspan><tspan x="399.2" dy="11.88">+ post_invoke()</tspan><tspan x="399.2" dy="11.88">+ create_Root_POA()</tspan></text>
</g>

<g id="TAO_POA_Default_Policy_Validator">
<rect class="rd" x="574.1" y="2826.1" width="158.6" height="144.3"/>
<path class="sr" d="M574.1,2859.4H732.7M574.1,2879H732.7"/>
<text x="583.1" y="2839">TAO_POA_Default_Policy</text>
<text class="c" x="653.4" y="2850.9">_Validator</text>
<text x="583.1" y="2891.4"><tspan x="583.1">+ TAO_POA_Default_Policy</tspan><tspan x="583.1" dy="11.88">_Validator()</tspan><tspan x="583.1" dy="11.88">+ ~TAO_POA_Default_Policy</tspan><tspan x="583.1" dy="11.88">_Validator()</tspan><tspan x="583.1" dy="11.88"># validate_impl()</tspan><tspan x="583.1" dy="11.88"># merge_policies_impl()</tspan><tspan x="583.1" dy="11.88"># legal_policy_impl()</tspan></text>
</g>

<g id="TAO_Object_Adapter">
<rect class="bx" x="471.1" y="3378.9" width="174.4" height="499.3"/>
<path class="sk" d="M471.1,3399.8H645.5M471.1,3538.8H645.5"/>
<text class="c" x="558.3" y="3391.8">TAO_Object_Adapter</text>
<text x="480.1" y="3412.2"><tspan x="480.1"># persistent_poa_name_map_</tspan><tspan x="480.1" dy="11.88"># transient_poa_map_</tspan><tspan x="480.1" dy="11.88"># thread_lock_</tspan><tspan x="480.1" dy="11.88"># transient_poa_name</tspan><tspan x="480.1" dy="11.88">_size_</tspan><tspan x="480.1" dy="11.88">- non_servant_upcall</tspan><tspan x="480.1" dy="11.88">_condition_</tspan><tspan x="480.1" dy="11.88">- non_servant_upcall</tspan><tspan x="480.1" dy="11.88">_nesting_level_</tspan><tspan x="480.1" dy="11.88">- non_servant_upcall</tspan><tspan x="480.1" dy="11.88">_thread_</tspan></text>
<text x="480.1" y="3551.2"><tspan x="480.1">+ TAO_Object_Adapter()</tspan><tspan x="480.1" dy="11.88">+ ~TAO_Object_Adapter()</tspan><tspan x="480.1" dy="11.88">+ dispatch_servant()</tspan><tspan x="480.1" dy="11.88">+ locate_servant()</tspan><tspan x="480.1" dy="11.88">+ find_servant()</tspan><tspan x="480.1" dy="11.88">+ find_poa()</tspan><tspan x="480.1" dy="11.88">+ bind_poa()</tspan><tspan x="480.1" dy="11.88">+ unbind_poa()</tspan><tspan x="480.1" dy="11.88">+ activate_poa()</tspan><tspan x="480.1" dy="11.88">+ lock()</tspan><tspan x="480.1" dy="11.88">and 20 more...</tspan><tspan x="480.1" dy="11.88">+ transient_poa_name_size()</tspan><tspan x="480.1" dy="11.88"># locate_servant_i()</tspan><tspan x="480.1" dy="11.88"># find_servant_i()</tspan><tspan x="480.1" dy="11.88"># dispatch_servant_i()</tspan><tspan x="480.1" dy="11.88"># locate_poa()</tspan><tspan x="480.1" dy="11.88"># find_transient_poa()</tspan><tspan x="480.1" dy="11.88"># find_persistent_poa()</tspan><tspan x="480.1" dy="11.88"># bind_transient_poa()</tspan><tspan x="480.1" dy="11.88"># bind_persistent_poa()</tspan><tspan x="480.1" dy="11.88"># unbind_transient_poa()</tspan><tspan x="480.1" dy="11.88"># unbind_persistent_poa()</tspan><tspan x="480.1" dy="11.88"># do_dispatch()</tspan><tspan x="480.1" dy="11.88"># create_lock()</tspan><tspan x="480.1" dy="11.88"># set_transient_poa_name_size()</tspan><tspan x="480.1" dy="11.88">- get_collocated_servant()</tspan><tspan x="480.1" dy="11.88">- release_poa_manager</tspan><tspan x="480.1" dy="11.88">_factory()</tspan></text>
</g>

<g id="Hint_Strategy">
<rect class="bx" x="337.7" y="3955.9" width="139.7" height="120.1"/>
<path class="sk" d="M337.7,3988.6H477.4M337.7,4008.8H477.4"/>
<text x="346.7" y="3968.8">TAO_Object_Adapter</text>
<text class="c" x="407.55" y="3980.7">::Hint_Strategy</text>
<text x="346.7" y="4021.2"><tspan x="346.7">+ ~Hint_Strategy()</tspan><tspan x="346.7" dy="11.88">+ find_persistent_poa()</tspan><tspan x="346.7" dy="11.88">+ bind_persistent_poa()</tspan><tspan x="346.7" dy="11.88">+ unbind_persistent_poa()</tspan><tspan x="346.7" dy="11.88">+ object_adapter()</tspan></text>
</g>

<g id="Non_Servant_Upcall">
<rect class="bx" x="609.3" y="3968.3" width="137.9" height="96.6"/>
<path class="sk" d="M609.3,4000.3H747.2M609.3,4021.2H747.2"/>
<text x="618.3" y="3981.2">TAO::Portable_Server</text>
<text class="c" x="678.25" y="3993.1">::Non_Servant_Upcall</text>
<text x="618.3" y="4033.6"><tspan x="618.3">+ Non_Servant_Upcall()</tspan><tspan x="618.3" dy="11.88">+ ~Non_Servant_Upcall()</tspan><tspan x="618.3" dy="11.88">+ poa()</tspan></text>
</g>

<g id="TAO_POAManager_Factory">
<rect class="rd" x="991.9" y="3944.8" width="173" height="143.6"/>
<path class="sr" d="M991.9,3965.7H1164.9M991.9,3986H1164.9"/>
<text class="c" x="1078.4" y="3957.7">TAO_POAManager_Factory</text>
<text x="1000.9" y="3998.4"><tspan x="1000.9">+ TAO_POAManager_Factory()</tspan><tspan x="1000.9" dy="11.88">+ ~TAO_POAManager_Factory()</tspan><tspan x="1000.9" dy="11.88">+ create_POAManager()</tspan><tspan x="1000.9" dy="11.88">+ list()</tspan><tspan x="1000.9" dy="11.88">+ find()</tspan><tspan x="1000.9" dy="11.88">+ remove_all_poamanagers()</tspan><tspan x="1000.9" dy="11.88">+ remove_poamanager()</tspan><tspan x="1000.9" dy="11.88">+ register_poamanager()</tspan></text>
</g>
</svg>
